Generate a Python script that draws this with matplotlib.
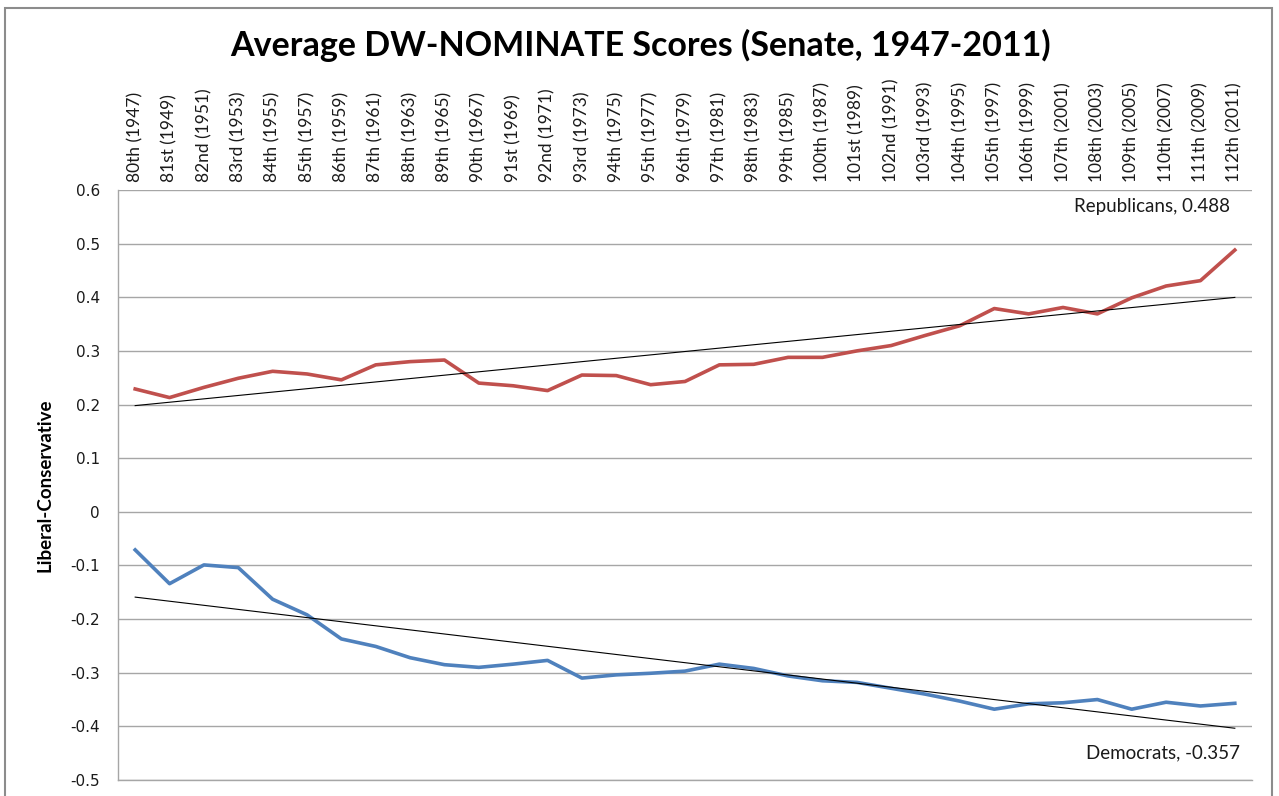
import numpy as np
import matplotlib
matplotlib.use("Agg")
import matplotlib.pyplot as plt
from matplotlib.patches import Rectangle

congresses = ["80th (1947)", "81st (1949)", "82nd (1951)", "83rd (1953)", "84th (1955)",
              "85th (1957)", "86th (1959)", "87th (1961)", "88th (1963)", "89th (1965)",
              "90th (1967)", "91st (1969)", "92nd (1971)", "93rd (1973)", "94th (1975)",
              "95th (1977)", "96th (1979)", "97th (1981)", "98th (1983)", "99th (1985)",
              "100th (1987)", "101st (1989)", "102nd (1991)", "103rd (1993)", "104th (1995)",
              "105th (1997)", "106th (1999)", "107th (2001)", "108th (2003)", "109th (2005)",
              "110th (2007)", "111th (2009)", "112th (2011)"]

republicans = [0.229, 0.213, 0.232, 0.249, 0.262, 0.257, 0.246, 0.274, 0.280, 0.283,
               0.240, 0.235, 0.226, 0.255, 0.254, 0.237, 0.243, 0.274, 0.275, 0.288,
               0.288, 0.300, 0.310, 0.329, 0.347, 0.379, 0.369, 0.381, 0.369, 0.399,
               0.421, 0.431, 0.488]

democrats = [-0.071, -0.134, -0.099, -0.104, -0.163, -0.192, -0.237, -0.251, -0.272, -0.285,
             -0.290, -0.284, -0.277, -0.310, -0.304, -0.301, -0.297, -0.284, -0.292, -0.306,
             -0.315, -0.318, -0.329, -0.340, -0.353, -0.368, -0.358, -0.356, -0.350, -0.368,
             -0.355, -0.362, -0.357]

y_ticks = [0.6, 0.5, 0.4, 0.3, 0.2, 0.1, 0, -0.1, -0.2, -0.3, -0.4, -0.5]

RED = "#C0504D"
BLUE = "#4F81BD"
GRID = "#A6A6A6"

fig = plt.figure(figsize=(12.79, 7.96), dpi=100)
ax = fig.add_axes([118 / 1279, 16 / 796, 1134 / 1279, 590 / 796])

x = np.arange(len(congresses))

# excel-style linear trendlines
for series in (republicans, democrats):
    slope, intercept = np.polyfit(x, series, 1)
    ax.plot(x, slope * x + intercept, color="black", lw=0.8, zorder=4)

ax.plot(x, republicans, color=RED, lw=2.6, zorder=3, solid_joinstyle="round")
ax.plot(x, democrats, color=BLUE, lw=2.6, zorder=3, solid_joinstyle="round")

ax.set_xlim(-0.5, len(congresses) - 0.5)
ax.set_ylim(-0.5, 0.6)
ax.set_yticks(y_ticks)
ax.set_yticklabels([f"{v:g}" for v in y_ticks], fontsize=11, family="DejaVu Sans")
ax.tick_params(axis="y", length=0, pad=13, labelcolor="#1a1a1a")
ax.yaxis.grid(True, color=GRID, lw=1)
ax.set_axisbelow(True)

ax.xaxis.tick_top()
ax.set_xticks(x)
ax.set_xticklabels(congresses, rotation=90, fontsize=12.5, family="Lato", va="bottom", ha="center")
ax.tick_params(axis="x", length=0, pad=6, labelcolor="#1a1a1a")

for side in ("top", "right"):
    ax.spines[side].set_visible(False)
for side in ("left", "bottom"):
    ax.spines[side].set_color(GRID)
    ax.spines[side].set_linewidth(1)

ax.set_ylabel("Liberal-Conservative", fontsize=13.5, fontweight="bold", family="Lato", labelpad=12)

ax.annotate(f"Republicans, {republicans[-1]:.3f}", xy=(x[-1], republicans[-1]), xytext=(-5, 44),
            textcoords="offset pixels", ha="right", va="center", fontsize=13.5, family="Lato",
            color="#1a1a1a")
ax.annotate(f"Democrats, {democrats[-1]:.3f}", xy=(x[-1], democrats[-1]), xytext=(5, -50),
            textcoords="offset pixels", ha="right", va="center", fontsize=13.5, family="Lato",
            color="#1a1a1a")

fig.text(640 / 1279, 1 - 45 / 796, "Average DW-NOMINATE Scores (Senate, 1947-2011)",
         ha="center", va="center", fontsize=24.5, fontweight="bold", family="Lato")

fig.patches.append(Rectangle((5 / 1279, -0.05), 1267 / 1279, 1.05 - 8 / 796,
                             transform=fig.transFigure, fill=False, edgecolor="#8C8C8C", lw=1.5))

fig.savefig("out.png", dpi=100)
